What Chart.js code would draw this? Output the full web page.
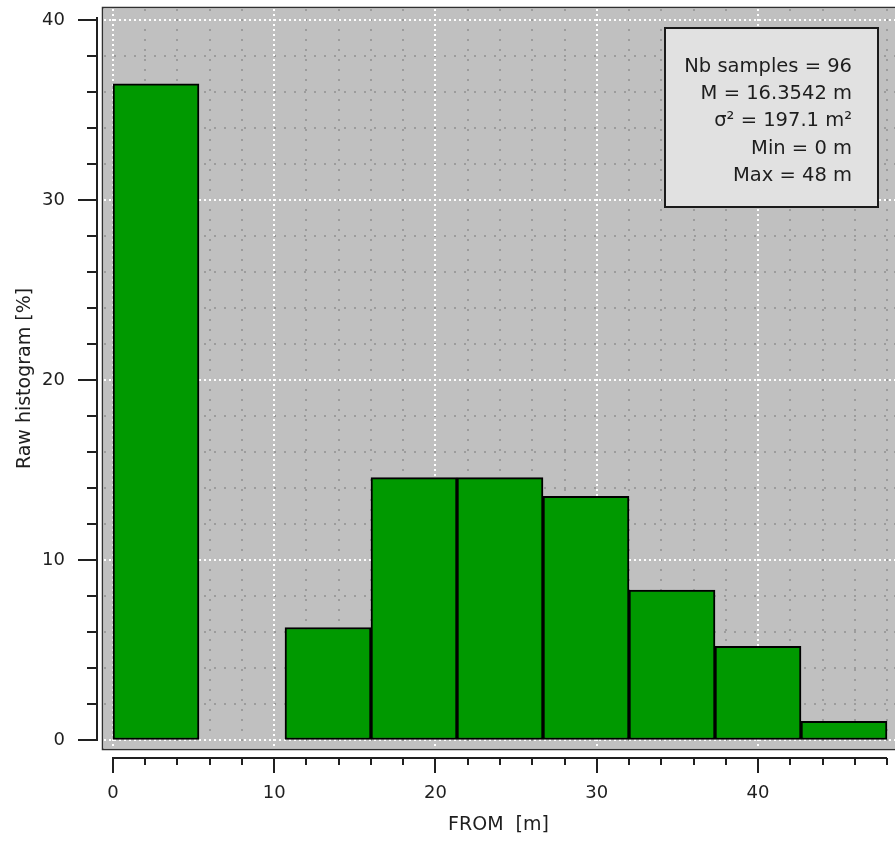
<!DOCTYPE html>
<html>
<head>
<meta charset="utf-8">
<script src="https://cdn.jsdelivr.net/npm/chart.js@4/dist/chart.umd.min.js"></script>
<style>
  html, body { margin: 0; padding: 0; background: #fff; }
  canvas { display: block; }
</style>
</head>
<body>
<canvas id="hist" width="895" height="842"></canvas>
<script>
// FROM histogram: 9 equal bins between Min and Max
const binEdges = [0, 5.333, 10.667, 16, 21.333, 26.667, 32, 37.333, 42.667, 48];
const rawPercent = [36.46, 0, 6.25, 14.58, 14.58, 13.54, 8.33, 5.21, 1.04];

// tick positions (every 2 units), labels only on the tens
const xTickValues = [0, 2, 4, 6, 8, 10, 12, 14, 16, 18, 20, 22, 24, 26, 28, 30, 32, 34, 36, 38, 40, 42, 44, 46, 48];
const yTickValues = [0, 2, 4, 6, 8, 10, 12, 14, 16, 18, 20, 22, 24, 26, 28, 30, 32, 34, 36, 38, 40];
const majorTicks = [0, 10, 20, 30, 40];

const statLines = ['Nb samples = 96', 'M = 16.3542 m', 'σ² = 197.1 m²', 'Min = 0 m', 'Max = 48 m'];

const FONT = 'DejaVu Sans';
const INK = '#1e1e1e';
const X_MIN = -0.682, X_MAX = 48.496;

const bars = rawPercent.map((v, i) => ({ x: (binEdges[i] + binEdges[i + 1]) / 2, y: v }));
const isMajor = v => majorTicks.includes(v);

const plotDecor = {
  id: 'plotDecor',
  beforeDraw(chart) {
    const { ctx, chartArea: a } = chart;
    ctx.save();
    ctx.fillStyle = '#c0c0c0';
    ctx.fillRect(a.left, a.top, a.right - a.left, a.bottom - a.top);
    ctx.restore();
  },
  beforeDatasetsDraw(chart) {
    const { ctx, chartArea: a, scales: { x, y } } = chart;
    ctx.save();
    ctx.lineWidth = 2;
    const pass = (major) => {
      ctx.strokeStyle = major ? '#ffffff' : '#9c9c9c';
      ctx.setLineDash(major ? [2, 3] : [2, 8]);
      xTickValues.filter(v => isMajor(v) === major).forEach(v => {
        const px = Math.round(x.getPixelForValue(v));
        ctx.beginPath();
        ctx.moveTo(px, a.top + 2);
        ctx.lineTo(px, a.bottom);
        ctx.stroke();
      });
      yTickValues.filter(v => isMajor(v) === major).forEach(v => {
        const py = Math.round(y.getPixelForValue(v));
        ctx.beginPath();
        ctx.moveTo(a.left + 2, py);
        ctx.lineTo(a.right, py);
        ctx.stroke();
      });
    };
    pass(false);
    pass(true);
    ctx.restore();
  },
  afterDraw(chart) {
    const { ctx, chartArea: a, scales: { x, y } } = chart;
    ctx.save();

    // plot frame: dark outer edge with a light inner edge
    ctx.lineWidth = 1;
    ctx.strokeStyle = '#e6e6e6';
    ctx.beginPath();
    ctx.moveTo(a.right, a.top + 1.5);
    ctx.lineTo(a.left + 1.5, a.top + 1.5);
    ctx.lineTo(a.left + 1.5, a.bottom - 1.5);
    ctx.lineTo(a.right, a.bottom - 1.5);
    ctx.stroke();
    ctx.strokeStyle = '#303030';
    ctx.lineWidth = 1.5;
    ctx.beginPath();
    ctx.moveTo(a.right, a.top + 0.5);
    ctx.lineTo(a.left + 0.5, a.top + 0.5);
    ctx.lineTo(a.left + 0.5, a.bottom - 0.5);
    ctx.lineTo(a.right, a.bottom - 0.5);
    ctx.stroke();

    // detached axes with long major and short minor ticks
    ctx.strokeStyle = '#202020';
    ctx.lineWidth = 2;
    const ax = a.left - 5;
    ctx.beginPath();
    ctx.moveTo(ax, Math.round(y.getPixelForValue(40)) - 3);
    ctx.lineTo(ax, Math.round(y.getPixelForValue(0)) + 1);
    yTickValues.forEach(v => {
      const py = Math.round(y.getPixelForValue(v));
      ctx.moveTo(ax, py);
      ctx.lineTo(ax - (isMajor(v) ? 19 : 10), py);
    });
    ctx.stroke();

    const ay = a.bottom + 8;
    ctx.beginPath();
    ctx.moveTo(Math.round(x.getPixelForValue(0)) - 1, ay);
    ctx.lineTo(Math.round(x.getPixelForValue(48)), ay);
    xTickValues.forEach(v => {
      const px = Math.round(x.getPixelForValue(v));
      ctx.moveTo(px, ay);
      ctx.lineTo(px, ay + (isMajor(v) ? 15 : 7));
    });
    ctx.stroke();

    // statistics box
    const bx = 665, by = 28, bw = 213, bh = 179;
    ctx.fillStyle = '#e1e1e1';
    ctx.fillRect(bx, by, bw, bh);
    ctx.strokeStyle = '#1a1a1a';
    ctx.lineWidth = 2;
    ctx.strokeRect(bx, by, bw, bh);
    ctx.fillStyle = INK;
    ctx.font = '19.5px "' + FONT + '"';
    ctx.textAlign = 'right';
    ctx.textBaseline = 'alphabetic';
    statLines.forEach((t, i) => ctx.fillText(t, bx + bw - 26, by + 44 + i * 27.2));

    ctx.restore();
  }
};

new Chart(document.getElementById('hist'), {
  type: 'bar',
  data: {
    datasets: [{
      label: 'Raw histogram',
      data: bars,
      xAxisID: 'bins',
      backgroundColor: '#009900',
      borderColor: '#000000',
      borderWidth: 2,
      borderSkipped: false,
      barPercentage: 1,
      categoryPercentage: 1
    }]
  },
  options: {
    responsive: false,
    animation: false,
    devicePixelRatio: 1,
    layout: { padding: { top: 7, left: 0, right: 0, bottom: 0 } },
    plugins: {
      legend: { display: false },
      tooltip: { enabled: false }
    },
    scales: {
      // hidden scale with ticks on the bin edges, so each bar fills its bin
      bins: {
        type: 'linear',
        display: false,
        offset: false,
        min: X_MIN,
        max: X_MAX,
        afterBuildTicks: s => { s.ticks = binEdges.map(v => ({ value: v })); }
      },
      x: {
        type: 'linear',
        offset: false,
        min: X_MIN,
        max: X_MAX,
        afterBuildTicks: s => { s.ticks = xTickValues.map(v => ({ value: v })); },
        afterFit: s => { s.height = 92; s.paddingLeft = 0; s.paddingRight = 0; },
        grid: { drawOnChartArea: false, drawTicks: false, offset: false },
        border: { display: false },
        ticks: {
          autoSkip: false,
          maxRotation: 0,
          padding: 33,
          color: INK,
          font: { family: FONT, size: 18 },
          callback: v => (isMajor(v) ? String(v) : '')
        },
        title: {
          display: true,
          text: 'FROM  [m]',
          color: INK,
          font: { family: FONT, size: 19 },
          padding: { top: 6, bottom: 6 }
        }
      },
      y: {
        min: -0.556,
        max: 40.722,
        afterBuildTicks: s => { s.ticks = yTickValues.map(v => ({ value: v })); },
        afterFit: s => { s.width = 102; s.paddingTop = 0; s.paddingBottom = 0; },
        grid: { drawOnChartArea: false, drawTicks: false },
        border: { display: false },
        ticks: {
          autoSkip: false,
          padding: 37,
          color: INK,
          font: { family: FONT, size: 18 },
          callback: v => (isMajor(v) ? String(v) : '')
        },
        title: {
          display: true,
          text: 'Raw histogram [%]',
          color: INK,
          font: { family: FONT, size: 19 },
          padding: { top: 14, bottom: 0 }
        }
      }
    }
  },
  plugins: [plotDecor]
});
</script>
</body>
</html>
